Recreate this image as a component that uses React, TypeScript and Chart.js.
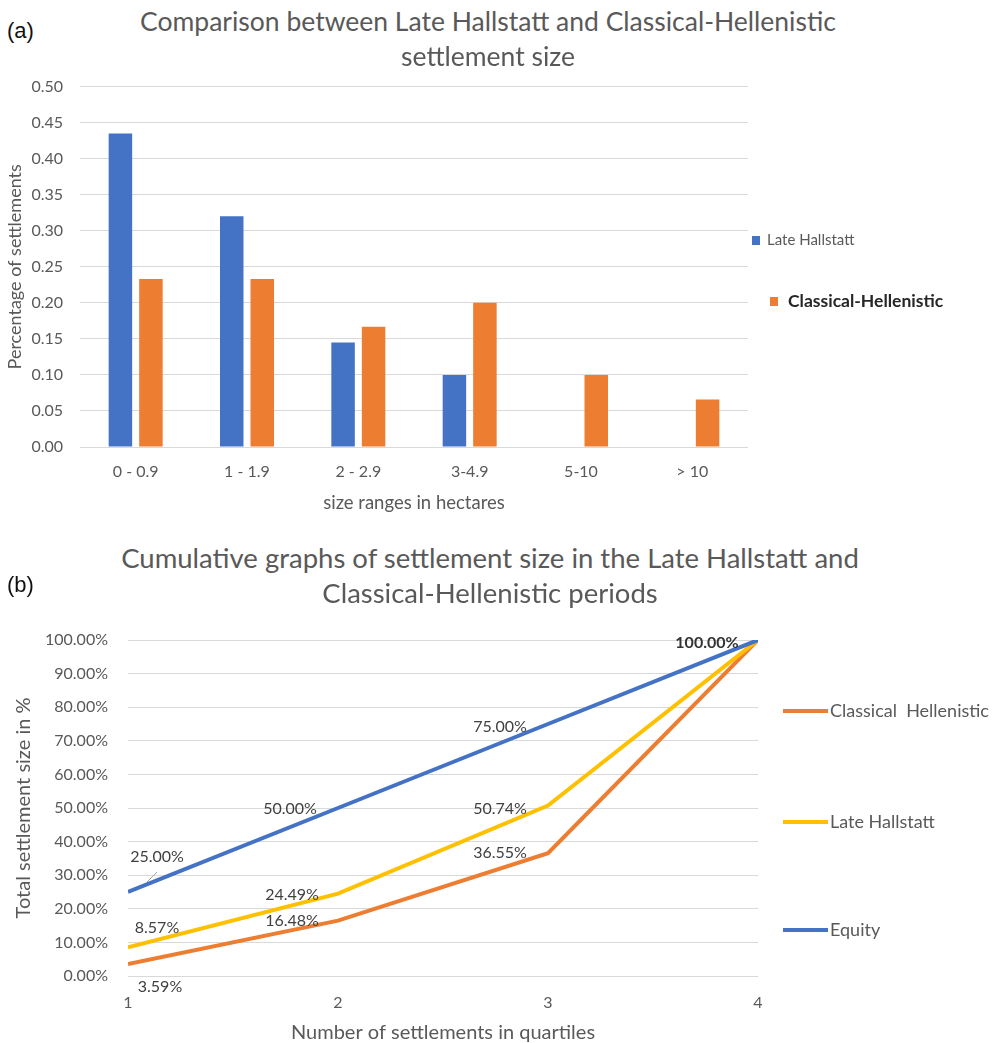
import React, { useEffect, useRef } from "react";
import { Chart, registerables } from "chart.js";

Chart.register(...registerables);

// ---------- data: panel (a) ----------
const sizeRanges = ["0 - 0.9", "1 - 1.9", "2 - 2.9", "3-4.9", "5-10", "> 10"];
const lateHallstattShare = [0.435, 0.32, 0.145, 0.1, 0, 0];
const classicalHellenisticShare = [0.233, 0.233, 0.167, 0.2, 0.1, 0.066];

// ---------- data: panel (b) ----------
const quartiles = [1, 2, 3, 4];
const classicalHellenisticCumulative = [3.59, 16.48, 36.55, 100];
const lateHallstattCumulative = [8.57, 24.49, 50.74, 100];
const equityCumulative = [25, 50, 75, 100];

const FONT = "Lato, 'Open Sans', sans-serif";
const GREY = "#595959";
const BLUE = "#4472C4";
const ORANGE = "#ED7D31";
const YELLOW = "#FFC000";

// label placement (offsets from the point, in px) – styling only
const labelOffsets: Record<string, ({ dx: number; dy: number; leader?: boolean; bold?: boolean } | null)[]> = {
  "Classical  Hellenistic": [{ dx: 32, dy: 23 }, { dx: -46, dy: 0 }, { dx: -48, dy: 0 }, null],
  "Late Hallstatt": [{ dx: 29, dy: -19 }, { dx: -46, dy: 1 }, { dx: -48, dy: 3 }, null],
  Equity: [{ dx: 29, dy: -35, leader: true }, { dx: -48, dy: 1 }, { dx: -48, dy: 3 }, { dx: -51, dy: 3, bold: true }],
};

const pointLabelPlugin = {
  id: "pointLabels",
  afterDatasetsDraw(chart: any) {
    const ctx = chart.ctx;
    ctx.save();
    chart.data.datasets.forEach((ds: any, i: number) => {
      const meta = chart.getDatasetMeta(i);
      const offs = labelOffsets[ds.label] || [];
      meta.data.forEach((pt: any, j: number) => {
        const o = offs[j];
        if (!o) return;
        const raw = ds.data[j];
        const v = typeof raw === "number" ? raw : Number(raw.y);
        if (o.leader) {
          ctx.strokeStyle = "#a6a6a6";
          ctx.lineWidth = 1;
          ctx.beginPath();
          ctx.moveTo(pt.x + 19, pt.y - 10);
          ctx.lineTo(pt.x + 29, pt.y - 20);
          ctx.stroke();
        }
        ctx.font = `${o.bold ? "bold " : ""}16px ${FONT}`;
        ctx.fillStyle = o.bold ? "#333333" : "#404040";
        ctx.textAlign = "center";
        ctx.textBaseline = "middle";
        ctx.fillText(v.toFixed(2) + "%", pt.x + o.dx, pt.y + o.dy);
      });
    });
    ctx.restore();
  },
};

const barLegendPlugin = {
  id: "barLegend",
  afterDraw(chart: any) {
    const ctx = chart.ctx;
    const items = [
      { i: 0, x: 752, y: 180, bold: false, size: 15, gap: 15 },
      { i: 1, x: 770, y: 241, bold: true, size: 17.5, gap: 18 },
    ];
    ctx.save();
    items.forEach((it) => {
      const ds = chart.data.datasets[it.i];
      ctx.fillStyle = ds.backgroundColor;
      ctx.fillRect(it.x, it.y - 4, 8, 9);
      ctx.font = `${it.bold ? "bold " : ""}${it.size}px ${FONT}`;
      ctx.fillStyle = it.bold ? "#262626" : GREY;
      ctx.textAlign = "left";
      ctx.textBaseline = "middle";
      ctx.fillText(ds.label, it.x + it.gap, it.y);
    });
    ctx.restore();
  },
};

const lineLegendPlugin = {
  id: "lineLegend",
  afterDraw(chart: any) {
    const ctx = chart.ctx;
    const rows = [
      { i: 0, y: 111 },
      { i: 1, y: 222 },
      { i: 2, y: 330 },
    ];
    ctx.save();
    rows.forEach((r) => {
      const ds = chart.data.datasets[r.i];
      ctx.strokeStyle = ds.borderColor;
      ctx.lineWidth = 4;
      ctx.beginPath();
      ctx.moveTo(783, r.y);
      ctx.lineTo(828, r.y);
      ctx.stroke();
      ctx.font = `18px ${FONT}`;
      ctx.fillStyle = GREY;
      ctx.textAlign = "left";
      ctx.textBaseline = "middle";
      ctx.fillText(ds.label, 830, r.y);
    });
    ctx.restore();
  },
};

function BarPanel() {
  const ref = useRef<HTMLCanvasElement | null>(null);
  useEffect(() => {
    if (!ref.current) return;
    const chart = new Chart(ref.current, {
      type: "bar",
      data: {
        labels: sizeRanges,
        datasets: [
          { label: "Late Hallstatt", data: lateHallstattShare, backgroundColor: BLUE, barPercentage: 0.77, categoryPercentage: 0.548 },
          { label: "Classical-Hellenistic", data: classicalHellenisticShare, backgroundColor: ORANGE, barPercentage: 0.77, categoryPercentage: 0.548 },
        ],
      },
      options: {
        responsive: false,
        animation: false,
        events: [],
        layout: { padding: { left: 0, right: 245, top: 16, bottom: 13 } },
        plugins: { legend: { display: false }, tooltip: { enabled: false }, title: { display: false } },
        scales: {
          x: {
            grid: { display: false, drawTicks: false },
            border: { display: false },
            ticks: { color: GREY, font: { family: FONT, size: 16 }, padding: 15 },
            title: { display: true, text: "size ranges in hectares", color: GREY, font: { family: FONT, size: 18.5 }, padding: { top: 0, bottom: 3 } },
            afterFit: (s: any) => { s.height = 70; },
          },
          y: {
            min: 0,
            max: 0.5,
            ticks: { stepSize: 0.05, color: GREY, font: { family: FONT, size: 16 }, padding: 17, callback: (v: any) => Number(v).toFixed(2) },
            grid: { color: "#d9d9d9", drawTicks: false },
            border: { display: false },
            title: { display: true, text: "Percentage of settlements", color: GREY, font: { family: FONT, size: 18 }, padding: { top: 4, bottom: 0 } },
            afterFit: (s: any) => { s.width = 80; },
          },
        },
      },
      plugins: [barLegendPlugin],
    } as any);
    return () => chart.destroy();
  }, []);
  return <canvas ref={ref} width={993} height={470} style={{ position: "absolute", left: 0, top: 60, display: "block" }} />;
}

function LinePanel() {
  const ref = useRef<HTMLCanvasElement | null>(null);
  useEffect(() => {
    if (!ref.current) return;
    const mk = (arr: number[]) => quartiles.map((q, i) => ({ x: q, y: arr[i] }));
    const chart = new Chart(ref.current, {
      type: "line",
      data: {
        datasets: [
          { label: "Classical  Hellenistic", data: mk(classicalHellenisticCumulative), borderColor: ORANGE, backgroundColor: ORANGE, borderWidth: 4, pointRadius: 0, order: 3 },
          { label: "Late Hallstatt", data: mk(lateHallstattCumulative), borderColor: YELLOW, backgroundColor: YELLOW, borderWidth: 4, pointRadius: 0, order: 2 },
          { label: "Equity", data: mk(equityCumulative), borderColor: BLUE, backgroundColor: BLUE, borderWidth: 4, pointRadius: 0, order: 1 },
        ],
      },
      options: {
        responsive: false,
        animation: false,
        events: [],
        layout: { padding: { left: 0, right: 235, top: 40, bottom: 0 } },
        plugins: { legend: { display: false }, tooltip: { enabled: false }, title: { display: false } },
        scales: {
          x: {
            type: "linear",
            min: 1,
            max: 4,
            grid: { display: false, drawTicks: false },
            border: { display: false },
            ticks: { stepSize: 1, color: GREY, font: { family: FONT, size: 16 }, padding: 17 },
            title: { display: true, text: "Number of settlements in quartiles", color: GREY, font: { family: FONT, size: 20, lineHeight: 1 }, padding: { top: 0, bottom: 0 } },
            afterFit: (s: any) => { s.height = 67; },
          },
          y: {
            min: 0,
            max: 100,
            ticks: { stepSize: 10, color: GREY, font: { family: FONT, size: 16 }, padding: 20, callback: (v: any) => Number(v).toFixed(2) + "%" },
            grid: { color: "#d9d9d9", drawTicks: false },
            border: { display: false },
            title: { display: true, text: "Total settlement size in %", color: GREY, font: { family: FONT, size: 20 }, padding: { top: 12, bottom: 0 } },
            afterFit: (s: any) => { s.width = 128; },
          },
        },
      },
      plugins: [pointLabelPlugin, lineLegendPlugin],
    } as any);
    return () => chart.destroy();
  }, []);
  return <canvas ref={ref} width={993} height={443} style={{ position: "absolute", left: 0, top: 600, display: "block" }} />;
}

export default function App() {
  useEffect(() => {
    document.body.style.margin = "0";
  }, []);
  const titleStyle = (cx: number, cy: number, size: number): React.CSSProperties => ({
    position: "absolute",
    left: cx - 450,
    width: 900,
    top: cy - size * 0.6,
    lineHeight: `${size * 1.2}px`,
    fontSize: size,
    fontFamily: FONT,
    color: GREY,
    textAlign: "center",
    whiteSpace: "nowrap",
  });
  const tagStyle = (cy: number): React.CSSProperties => ({
    position: "absolute",
    left: 7,
    top: cy - 13,
    lineHeight: "26px",
    fontSize: 22,
    fontFamily: "'Liberation Sans', Arial, sans-serif",
    color: "#111",
  });
  return (
    <div style={{ position: "relative", width: 993, height: 1043, background: "#fff", overflow: "hidden" }}>
      <BarPanel />
      <LinePanel />
      <div style={titleStyle(488, 22, 26.5)}>Comparison between Late Hallstatt and Classical-Hellenistic</div>
      <div style={titleStyle(488, 57, 26.5)}>settlement size</div>
      <div style={titleStyle(490, 557, 27.5)}>Cumulative graphs of settlement size in the Late Hallstatt and</div>
      <div style={titleStyle(490, 592, 27.5)}>Classical-Hellenistic periods</div>
      <div style={tagStyle(31)}>(a)</div>
      <div style={tagStyle(585)}>(b)</div>
    </div>
  );
}
